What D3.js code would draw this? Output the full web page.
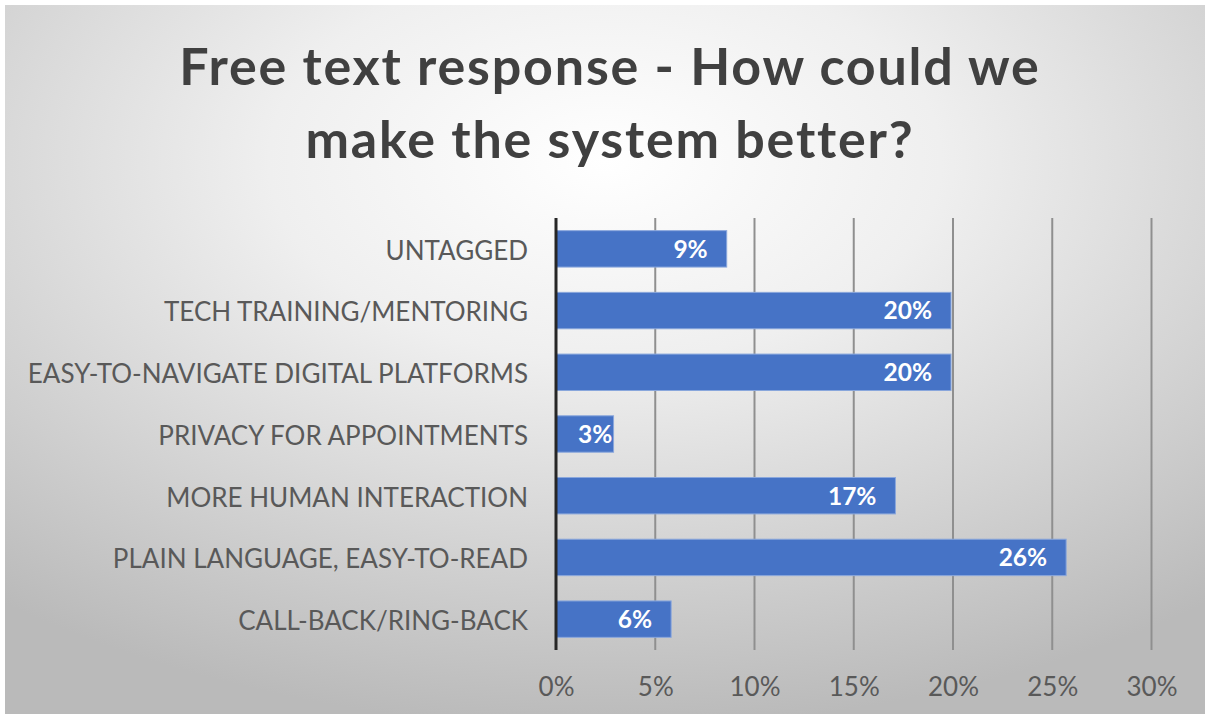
<!DOCTYPE html>
<html>
<head>
<meta charset="utf-8">
<script src="https://cdn.jsdelivr.net/npm/d3@7"></script>
<style>
  html, body { margin: 0; padding: 0; background: #ffffff; }
  svg { display: block; }
</style>
</head>
<body>
<svg id="chart" width="1208" height="722"></svg>
<script>
// Survey answers, top to bottom
const categories = [
  "UNTAGGED",
  "TECH TRAINING/MENTORING",
  "EASY-TO-NAVIGATE DIGITAL PLATFORMS",
  "PRIVACY FOR APPOINTMENTS",
  "MORE HUMAN INTERACTION",
  "PLAIN LANGUAGE, EASY-TO-READ",
  "CALL-BACK/RING-BACK"
];
// Share of responses per theme
const shares = [0.086, 0.199, 0.199, 0.029, 0.171, 0.257, 0.058];
const xTicks = [0, 0.05, 0.10, 0.15, 0.20, 0.25, 0.30];
const titleLines = ["Free text response - How could we", "make the system better?"];

const W = 1208, H = 722;
const FONT = "Lato, 'Open Sans', sans-serif";
const svg = d3.select("#chart");

// Framed panel with soft radial shading
const defs = svg.append("defs");
const grad = defs.append("radialGradient")
  .attr("id", "bg")
  .attr("cx", "50%").attr("cy", "22%").attr("r", "80%")
  .attr("fx", "50%").attr("fy", "22%");
grad.append("stop").attr("offset", "0%").attr("stop-color", "#ffffff");
grad.append("stop").attr("offset", "35%").attr("stop-color", "#efefef");
grad.append("stop").attr("offset", "100%").attr("stop-color", "#bababa");

svg.append("rect").attr("width", W).attr("height", H).attr("fill", "#ffffff");
svg.append("rect")
  .attr("x", 5).attr("y", 5).attr("width", W - 8).attr("height", H - 13)
  .attr("fill", "url(#bg)");

// Title
svg.append("g")
  .selectAll("text")
  .data(titleLines)
  .join("text")
  .attr("x", 610)
  .attr("y", (d, i) => 85 + i * 73)
  .attr("text-anchor", "middle")
  .attr("font-family", FONT)
  .attr("font-weight", 700)
  .attr("font-size", 52)
  .attr("letter-spacing", 1.8)
  .attr("fill", "#404040")
  .text(d => d);

// Scales
const margin = { left: 556, right: 1151.5, top: 218, bottom: 650 };
const x = d3.scaleLinear().domain([0, 0.30]).range([margin.left, margin.right]);
const y = d3.scaleBand().domain(categories).range([margin.top, margin.bottom]).paddingInner(0.41).paddingOuter(0.205);

// Vertical gridlines
svg.append("g")
  .selectAll("line")
  .data(xTicks.slice(1))
  .join("line")
  .attr("x1", d => x(d)).attr("x2", d => x(d))
  .attr("y1", margin.top).attr("y2", margin.bottom)
  .attr("stroke", "#8f8f8f")
  .attr("stroke-width", 2);

// Bars
svg.append("g")
  .selectAll("rect")
  .data(shares)
  .join("rect")
  .attr("x", x(0))
  .attr("y", (d, i) => y(categories[i]))
  .attr("width", d => x(d) - x(0))
  .attr("height", y.bandwidth())
  .attr("fill", "#4673c6")
  .attr("stroke", "#8aa7dc")
  .attr("stroke-width", 1);

// Value labels inside bar ends; short bars push the label right so it clears the axis
const fmt = d3.format(".0%");
svg.append("g")
  .selectAll("text")
  .data(shares)
  .join("text")
  .attr("y", (d, i) => y(categories[i]) + y.bandwidth() / 2)
  .attr("dy", "0.36em")
  .attr("text-anchor", "end")
  .attr("font-family", FONT)
  .attr("font-weight", 700)
  .attr("font-size", 24.5)
  .attr("fill", "#ffffff")
  .text(d => fmt(d))
  .attr("x", function (d) {
    const w = this.getComputedTextLength();
    return Math.max(x(d) - 19, x(0) + 22 + w);
  });

// Category axis
const yAxis = d3.axisLeft(y).tickSize(0).tickPadding(28);
const gy = svg.append("g")
  .attr("transform", `translate(${x(0)},0)`)
  .call(yAxis);
gy.select(".domain").remove();
gy.selectAll("text")
  .attr("dy", "0.42em")
  .attr("font-family", FONT)
  .attr("font-size", 26)
  .attr("fill", "#595959");

// Baseline at zero
svg.append("line")
  .attr("x1", x(0)).attr("x2", x(0))
  .attr("y1", margin.top).attr("y2", margin.bottom)
  .attr("stroke", "#262626")
  .attr("stroke-width", 3);

// Percentage axis
const xAxis = d3.axisBottom(x).tickValues(xTicks).tickFormat(d3.format(".0%")).tickSize(0).tickPadding(28);
const gx = svg.append("g")
  .attr("transform", `translate(0,${margin.bottom})`)
  .call(xAxis);
gx.select(".domain").remove();
gx.selectAll("text")
  .attr("font-family", FONT)
  .attr("font-size", 26)
  .attr("fill", "#595959");
</script>
</body>
</html>
